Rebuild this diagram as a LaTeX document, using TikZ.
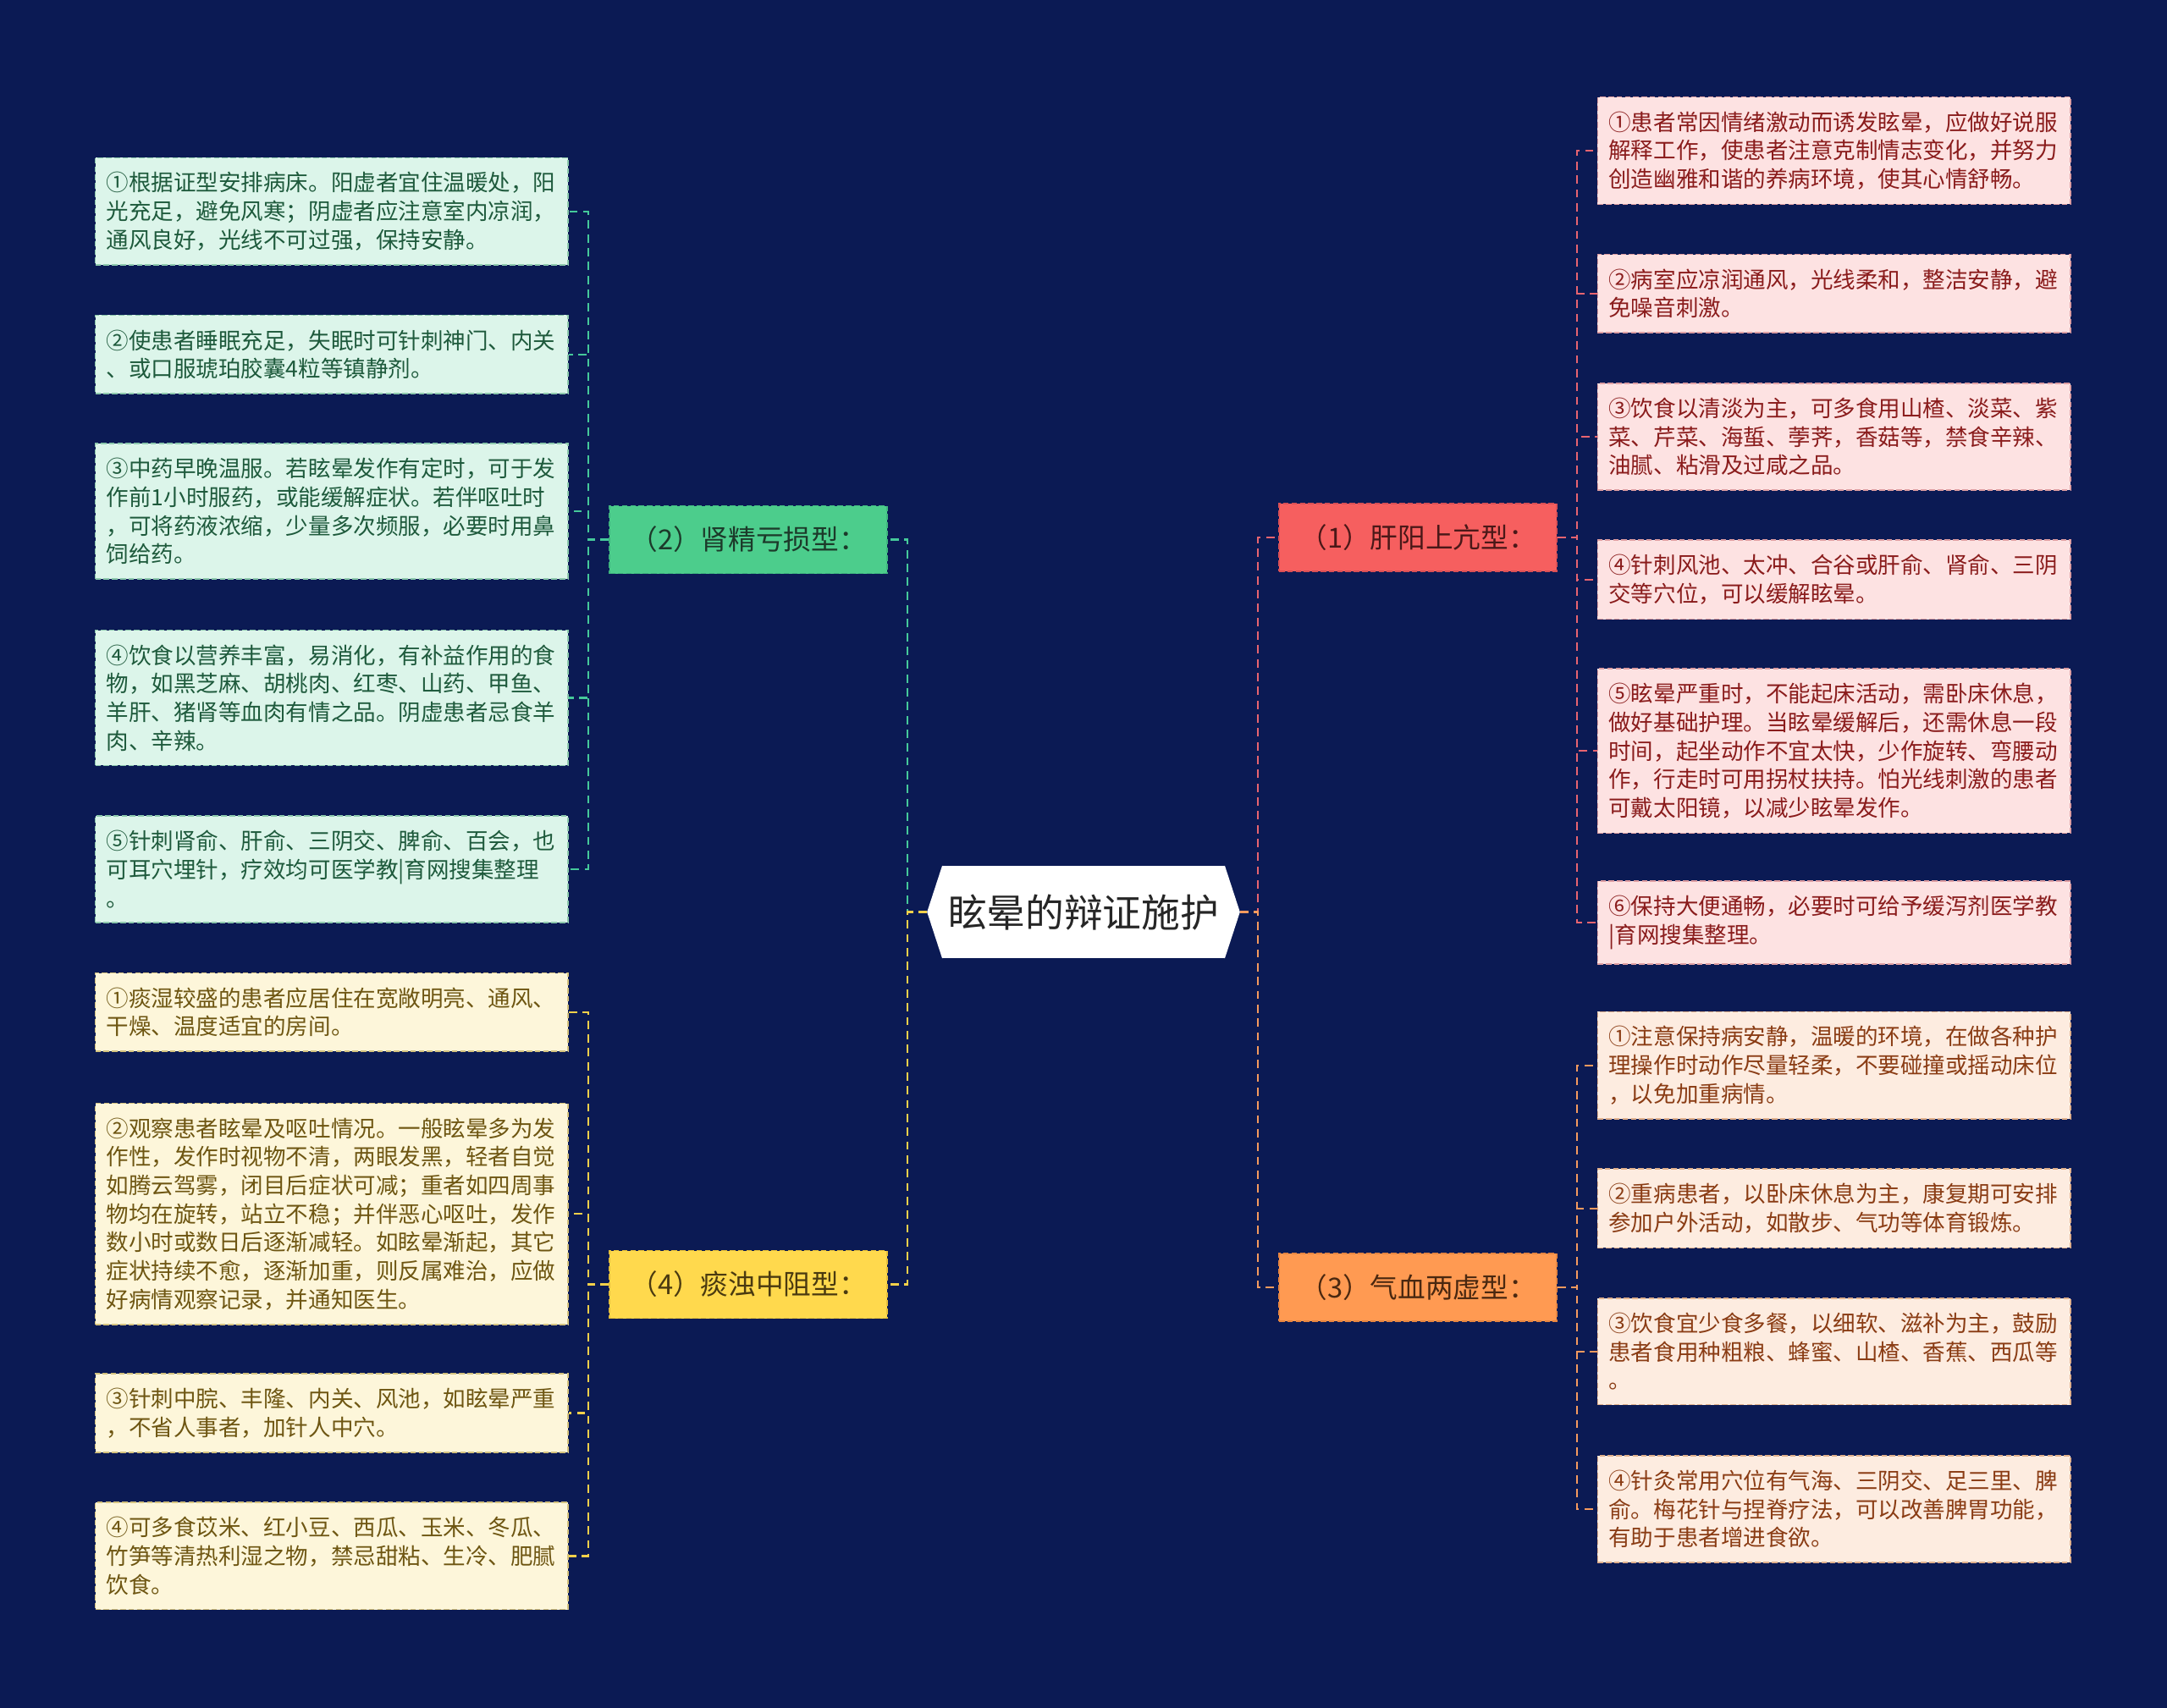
\documentclass[tikz,border=0pt]{standalone}
\usepackage{fontspec}
\setmainfont{Noto Sans CJK SC}
\usetikzlibrary{calc}
\definecolor{bg}{HTML}{0B1A54}
% green
\definecolor{gbr}{HTML}{4CCD8C}\definecolor{gbrtext}{HTML}{1C3A2A}\definecolor{gbrdraw}{HTML}{3FB57E}
\definecolor{glf}{HTML}{DCF5EA}\definecolor{glftext}{HTML}{1E5A3C}\definecolor{glfdraw}{HTML}{8CC8AC}
\definecolor{gcn}{HTML}{45C99A}
% yellow
\definecolor{ybr}{HTML}{FFD94D}\definecolor{ybrtext}{HTML}{4A3A10}\definecolor{ybrdraw}{HTML}{E5BE3A}
\definecolor{ylf}{HTML}{FDF6DA}\definecolor{ylftext}{HTML}{6E5612}\definecolor{ylfdraw}{HTML}{D4C27E}
\definecolor{ycn}{HTML}{F3D04A}
% red
\definecolor{rbr}{HTML}{F65F5F}\definecolor{rbrtext}{HTML}{4A1818}\definecolor{rbrdraw}{HTML}{D94F55}
\definecolor{rlf}{HTML}{FDE2E2}\definecolor{rlftext}{HTML}{8A1C1C}\definecolor{rlfdraw}{HTML}{DE9EA2}
\definecolor{rcn}{HTML}{E86470}
% orange
\definecolor{obr}{HTML}{FF9A52}\definecolor{obrtext}{HTML}{4A2810}\definecolor{obrdraw}{HTML}{E58440}
\definecolor{olf}{HTML}{FDECE0}\definecolor{olftext}{HTML}{8A3C14}\definecolor{olfdraw}{HTML}{E0B08C}
\definecolor{ocn}{HTML}{F59A5E}
\begin{document}
\begin{tikzpicture}[x=1pt,y=-1pt,
  leaf/.style={draw, dash pattern=on 4pt off 2pt, line width=1pt, text width=326pt, align=left,
    inner xsep=8pt, inner ysep=10.5pt, font=\fontsize{16.25}{20.6}\selectfont, anchor=center},
  gleaf/.style={leaf, fill=glf, draw=glfdraw, text=glftext},
  yleaf/.style={leaf, fill=ylf, draw=ylfdraw, text=ylftext},
  rleaf/.style={leaf, fill=rlf, draw=rlfdraw, text=rlftext},
  oleaf/.style={leaf, fill=olf, draw=olfdraw, text=olftext},
  branch/.style={draw, dash pattern=on 4pt off 2pt, line width=1pt, minimum width=201pt,
    minimum height=49pt, inner sep=0pt, font=\fontsize{20}{23}\selectfont},
  conn/.style={line width=1.4pt, dash pattern=on 6pt off 4pt},
]
\useasboundingbox (0,0) rectangle (1568,1236);
\fill[bg] (0,0) rectangle (1568,1236);

% central node
\node[fill=white, minimum width=204pt, minimum height=67pt, inner sep=0pt,
  font=\fontsize{28}{30}\selectfont, text=black!85] (c) at (784,660) {眩晕的辩证施护};
\coordinate (cl) at ($(c.west)+(-11,0)$);
\coordinate (cr) at ($(c.east)+(11,0)$);
\fill[white] (c.north west) -- (cl) -- (c.south west) -- cycle;
\fill[white] (c.north east) -- (cr) -- (c.south east) -- cycle;

% branch nodes
\node[branch, fill=gbr, draw=gbrdraw, text=gbrtext] (g) at (541.5,390.5) {（2）肾精亏损型：};
\node[branch, fill=ybr, draw=ybrdraw, text=ybrtext] (y) at (541.5,929.5) {（4）痰浊中阻型：};
\node[branch, fill=rbr, draw=rbrdraw, text=rbrtext] (r) at (1026,389) {（1）肝阳上亢型：};
\node[branch, fill=obr, draw=obrdraw, text=obrtext] (o) at (1026,931.5) {（3）气血两虚型：};

% left green leaves
\node[gleaf] (g1) at (240,153) {①根据证型安排病床。阳虚者宜住温暖处，阳\\光充足，避免风寒；阴虚者应注意室内凉润，\\通风良好，光线不可过强，保持安静。};
\node[gleaf] (g2) at (240,256.5) {②使患者睡眠充足，失眠时可针刺神门、内关\\、或口服琥珀胶囊4粒等镇静剂。};
\node[gleaf] (g3) at (240,370) {③中药早晚温服。若眩晕发作有定时，可于发\\作前1小时服药，或能缓解症状。若伴呕吐时\\，可将药液浓缩，少量多次频服，必要时用鼻\\饲给药。};
\node[gleaf] (g4) at (240,505) {④饮食以营养丰富，易消化，有补益作用的食\\物，如黑芝麻、胡桃肉、红枣、山药、甲鱼、\\羊肝、猪肾等血肉有情之品。阴虚患者忌食羊\\肉、辛辣。};
\node[gleaf] (g5) at (240,629) {⑤针刺肾俞、肝俞、三阴交、脾俞、百会，也\\可耳穴埋针，疗效均可医学教|育网搜集整理\\。};

% left yellow leaves
\node[yleaf] (y1) at (240,732.5) {①痰湿较盛的患者应居住在宽敞明亮、通风、\\干燥、温度适宜的房间。};
\node[yleaf] (y2) at (240,878.5) {②观察患者眩晕及呕吐情况。一般眩晕多为发\\作性，发作时视物不清，两眼发黑，轻者自觉\\如腾云驾雾，闭目后症状可减；重者如四周事\\物均在旋转，站立不稳；并伴恶心呕吐，发作\\数小时或数日后逐渐减轻。如眩晕渐起，其它\\症状持续不愈，逐渐加重，则反属难治，应做\\好病情观察记录，并通知医生。};
\node[yleaf] (y3) at (240,1022.5) {③针刺中脘、丰隆、内关、风池，如眩晕严重\\，不省人事者，加针人中穴。};
\node[yleaf] (y4) at (240,1126) {④可多食苡米、红小豆、西瓜、玉米、冬瓜、\\竹笋等清热利湿之物，禁忌甜粘、生冷、肥腻\\饮食。};

% right red leaves
\node[rleaf] (r1) at (1327,109) {①患者常因情绪激动而诱发眩晕，应做好说服\\解释工作，使患者注意克制情志变化，并努力\\创造幽雅和谐的养病环境，使其心情舒畅。};
\node[rleaf] (r2) at (1327,212.5) {②病室应凉润通风，光线柔和，整洁安静，避\\免噪音刺激。};
\node[rleaf] (r3) at (1327,316) {③饮食以清淡为主，可多食用山楂、淡菜、紫\\菜、芹菜、海蜇、荸荠，香菇等，禁食辛辣、\\油腻、粘滑及过咸之品。};
\node[rleaf] (r4) at (1327,419.5) {④针刺风池、太冲、合谷或肝俞、肾俞、三阴\\交等穴位，可以缓解眩晕。};
\node[rleaf] (r5) at (1327,543.5) {⑤眩晕严重时，不能起床活动，需卧床休息，\\做好基础护理。当眩晕缓解后，还需休息一段\\时间，起坐动作不宜太快，少作旋转、弯腰动\\作，行走时可用拐杖扶持。怕光线刺激的患者\\可戴太阳镜，以减少眩晕发作。};
\node[rleaf] (r6) at (1327,667.5) {⑥保持大便通畅，必要时可给予缓泻剂医学教\\|育网搜集整理。};

% right orange leaves
\node[oleaf] (o1) at (1327,771) {①注意保持病安静，温暖的环境，在做各种护\\理操作时动作尽量轻柔，不要碰撞或摇动床位\\，以免加重病情。};
\node[oleaf] (o2) at (1327,874.5) {②重病患者，以卧床休息为主，康复期可安排\\参加户外活动，如散步、气功等体育锻炼。};
\node[oleaf] (o3) at (1327,978) {③饮食宜少食多餐，以细软、滋补为主，鼓励\\患者食用种粗粮、蜂蜜、山楂、香蕉、西瓜等\\。};
\node[oleaf] (o4) at (1327,1092) {④针灸常用穴位有气海、三阴交、足三里、脾\\俞。梅花针与捏脊疗法，可以改善脾胃功能，\\有助于患者增进食欲。};

% center to branches
\draw[conn, gcn] (cl) -- ++(-14,0) |- (g.east);
\draw[conn, ycn] (cl) -- ++(-14,0) |- (y.east);
\draw[conn, rcn] (cr) -- ++(13,0) |- (r.west);
\draw[conn, ocn] (cr) -- ++(13,0) |- (o.west);

% branches to leaves
\foreach \n in {g1,g2,g3,g4,g5}
  \draw[conn, gcn] (g.west) -- ++(-15,0) |- (\n.east);
\foreach \n in {y1,y2,y3,y4}
  \draw[conn, ycn] (y.west) -- ++(-15,0) |- (\n.east);
\foreach \n in {r1,r2,r3,r4,r5,r6}
  \draw[conn, rcn] (r.east) -- ++(14,0) |- (\n.west);
\foreach \n in {o1,o2,o3,o4}
  \draw[conn, ocn] (o.east) -- ++(14,0) |- (\n.west);
\end{tikzpicture}
\end{document}
